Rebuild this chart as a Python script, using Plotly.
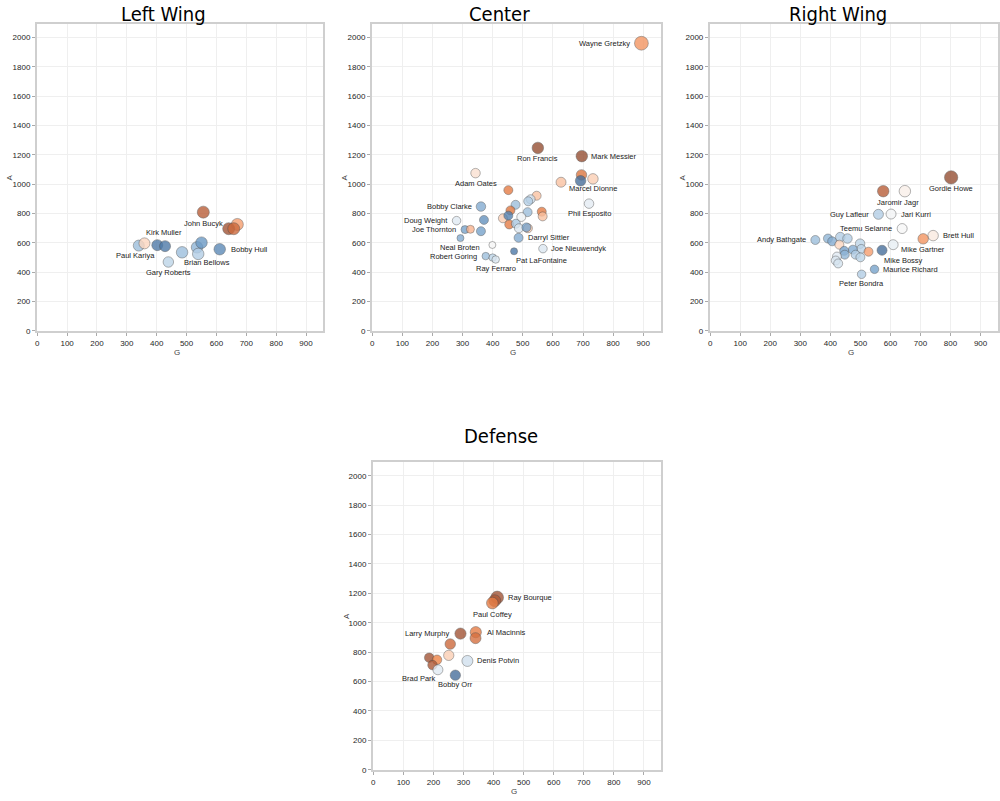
import plotly.graph_objects as go

# ---------------- DATA ----------------
# Left Wing
LW_names = ["", "Kirk Muller", "Paul Kariya", "", "Brian Bellows", "Gary Roberts", "", "", "",
            "Bobby Hull", "John Bucyk", "", "", ""]
LW_G = [340, 359, 402, 428, 485, 439, 535, 550, 539, 611, 556, 670, 641, 658]
LW_A = [582, 597, 585, 578, 536, 470, 570, 602, 525, 557, 810, 726, 697, 697]
LW_tone = [0.45, -0.12, 0.85, 0.85, 0.45, 0.3, 0.5, 0.65, 0.35, 0.75, -0.8, -0.35, -0.9, -0.7]
LW_weight = [1.1, 1.1, 1.1, 1.1, 1.15, 1.05, 1.15, 1.15, 1.15, 1.15, 1.2, 1.2, 1.2, 1.2]

# Center
C_names = ["Wayne Gretzky", "Ron Francis", "Mark Messier", "Adam Oates", "", "", "Marcel Dionne", "",
           "", "", "", "", "", "Bobby Clarke", "Phil Esposito", "", "", "", "", "", "", "",
           "Doug Weight", "", "", "", "", "", "", "Joe Thornton", "", "", "Neal Broten",
           "Darryl Sittler", "", "Pat LaFontaine", "Joe Nieuwendyk", "Robert Goring", "", "Ray Ferraro"]
C_G = [894, 550, 696, 343, 695, 692, 733, 627, 452, 546, 526, 518, 476, 361, 720, 459, 516, 563,
       566, 495, 434, 452, 280, 371, 455, 477, 487, 517, 512, 308, 326, 361, 293, 486, 399, 471,
       567, 377, 400, 410]
C_A = [1962, 1248, 1192, 1076, 1064, 1024, 1037, 1014, 960, 922, 898, 884, 860, 848, 868, 822,
       810, 813, 781, 777, 768, 786, 752, 757, 726, 731, 700, 700, 706, 691, 693, 680, 633, 635,
       586, 543, 561, 510, 500, 487]
C_tone = [-0.4, -0.95, -0.95, -0.08, -0.6, 0.9, -0.15, -0.2, -0.55, -0.2, 0.2, 0.35, 0.45, 0.55,
          0.1, -0.6, 0.45, -0.55, -0.2, 0.05, -0.15, 0.8, 0.12, 0.7, -0.55, 0.4, 0.15, -0.15, 0.6,
          0.6, -0.25, 0.6, 0.55, 0.55, 0.0, 0.85, 0.15, 0.45, 0.3, 0.15]
C_weight = [1.38, 1.15, 1.15, 0.95, 1.05, 1.05, 1.05, 1.0, 0.9, 0.9, 0.9, 0.9, 0.9, 0.95, 0.95,
            0.9, 0.9, 0.9, 0.9, 0.9, 0.9, 0.9, 0.85, 0.9, 0.9, 0.9, 0.9, 0.9, 0.9, 0.8, 0.8, 0.9,
            0.7, 0.9, 0.7, 0.7, 0.85, 0.75, 0.75, 0.75]

# Right Wing
RW_names = ["Gordie Howe", "", "Jaromir Jagr", "Guy Lafleur", "Jari Kurri", "Teemu Selanne",
            "Brett Hull", "Mike Gartner", "Andy Bathgate", "", "", "", "", "", "", "", "", "", "",
            "", "", "", "", "", "", "Mike Bossy", "", "Maurice Richard", "Peter Bondra"]
RW_G = [802, 576, 648, 560, 602, 639, 742, 709, 350, 392, 406, 433, 457, 430, 499, 503, 475, 527,
        446, 448, 484, 500, 422, 418, 426, 572, 609, 547, 504]
RW_A = [1047, 953, 953, 795, 797, 698, 650, 628, 620, 630, 611, 640, 630, 588, 595, 559, 554, 540,
        546, 520, 520, 502, 507, 480, 460, 550, 588, 420, 386]
RW_tone = [-0.95, -0.8, -0.03, 0.35, 0.02, 0.0, -0.05, -0.4, 0.45, 0.5, 0.55, 0.35, 0.35, -0.12,
           0.3, 0.3, 0.55, -0.35, 0.6, 0.5, 0.35, 0.3, 0.12, 0.15, 0.18, 0.9, 0.08, 0.6, 0.35]
RW_weight = [1.33, 1.15, 1.15, 1.0, 1.0, 1.0, 1.05, 1.05, 0.9, 0.9, 0.9, 0.95, 0.95, 0.9, 0.95,
             0.9, 0.9, 0.9, 0.9, 0.9, 0.9, 0.9, 0.9, 0.9, 0.9, 1.0, 1.0, 0.85, 0.85]

# Defense
D_names = ["Ray Bourque", "", "Paul Coffey", "Larry Murphy", "Al Macinnis", "", "", "",
           "Denis Potvin", "", "", "", "Brad Park", "Bobby Orr"]
D_G = [412, 404, 396, 290, 341, 340, 256, 251, 313, 186, 212, 197, 215, 273]
D_A = [1172, 1150, 1134, 926, 936, 895, 855, 778, 740, 762, 748, 712, 680, 643]
D_tone = [-0.9, -0.85, -0.55, -0.9, -0.55, -0.65, -0.7, -0.15, 0.2, -0.9, -0.5, -0.85, 0.12, 0.9]
D_weight = [1.27, 1.2, 1.17, 1.12, 1.12, 1.1, 1.05, 1.03, 1.1, 0.95, 0.95, 0.95, 1.0, 1.03]

X_TICKS = [0, 100, 200, 300, 400, 500, 600, 700, 800, 900]
Y_TICKS = [0, 200, 400, 600, 800, 1000, 1200, 1400, 1600, 1800, 2000]
TITLES = ["Left Wing", "Center", "Right Wing", "Defense"]

# ---------------- STYLE ----------------
# label placement: (xanchor, xshift px, yshift px)
LABEL_STYLE = {
    "Kirk Muller": ("left", 0, 11), "Paul Kariya": ("right", 0, -10),
    "Gary Roberts": ("center", 0, -10.5), "Brian Bellows": ("left", 0, -10),
    "Bobby Hull": ("left", 9, 0), "John Bucyk": ("center", 0, -11.5),
    "Wayne Gretzky": ("right", -9, 0), "Ron Francis": ("center", 0, -10.5),
    "Mark Messier": ("left", 7, 0), "Adam Oates": ("center", 0, -10),
    "Marcel Dionne": ("center", 0, -10), "Bobby Clarke": ("right", -7, 0),
    "Phil Esposito": ("center", 0, -10), "Doug Weight": ("right", -6.5, 0),
    "Joe Thornton": ("right", -6.5, 0), "Darryl Sittler": ("left", 7, 0),
    "Neal Broten": ("center", 0, -9), "Joe Nieuwendyk": ("left", 6.5, 0),
    "Robert Goring": ("right", -7, 0), "Pat LaFontaine": ("left", 0, -9.5),
    "Ray Ferraro": ("center", 0, -9),
    "Gordie Howe": ("center", 0, -11.5), "Jaromir Jagr": ("center", -7, -11),
    "Guy Lafleur": ("right", -7.5, 0), "Jari Kurri": ("left", 8, 0),
    "Teemu Selanne": ("right", -8, 0), "Brett Hull": ("left", 8, 0),
    "Mike Gartner": ("center", 0, -11), "Andy Bathgate": ("right", -7.5, 0),
    "Mike Bossy": ("left", 0, -10), "Maurice Richard": ("left", 6.5, 0),
    "Peter Bondra": ("center", 0, -9),
    "Ray Bourque": ("left", 9, 0), "Paul Coffey": ("center", 0, -11.5),
    "Larry Murphy": ("right", -9.5, 0), "Al Macinnis": ("left", 9, 0),
    "Denis Potvin": ("left", 8, 0), "Brad Park": ("right", 0, -8.5),
    "Bobby Orr": ("center", 0, -9.5),
}

COLORSCALE = [
    [0.0, "#8b4b33"], [0.12, "#c2623a"], [0.25, "#ee8447"], [0.35, "#f8a77c"],
    [0.45, "#fcdcc8"], [0.5, "#f7f7f7"], [0.58, "#d9e6f1"], [0.7, "#a9c8e2"],
    [0.82, "#6e9cc6"], [0.92, "#4f7cab"], [1.0, "#3f5b82"],
]
BASE_D = 10.0
TEXT_FONT = dict(family="Arial, Liberation Sans, sans-serif", size=7.5, color="#222222")
TICK_FONT = dict(family="Arial, Liberation Sans, sans-serif", size=8, color="#262626")
TITLE_FONT = dict(family="DejaVu Sans Condensed, Liberation Sans Narrow, Arial Narrow, sans-serif",
                  size=20, color="#000000")

W, H = 1000, 801
# plot-area pixel boxes: (left, right, top, bottom)
BOXES = [(35, 322, 24, 333), (370.7, 660, 24, 333), (709.3, 998, 24, 333), (371.7, 660.7, 464.3, 774)]
TITLE_POS = [(162, 14), (498, 14), (838, 14), (500, 438)]

panels = [
    (LW_names, LW_G, LW_A, LW_tone, LW_weight),
    (C_names, C_G, C_A, C_tone, C_weight),
    (RW_names, RW_G, RW_A, RW_tone, RW_weight),
    (D_names, D_G, D_A, D_tone, D_weight),
]

fig = go.Figure()
annotations = []
for i, (names, g, a, tone, weight) in enumerate(panels):
    sfx = "" if i == 0 else str(i + 1)
    fig.add_trace(go.Scatter(
        x=g, y=a, mode="markers", text=names,
        marker=dict(size=[w * BASE_D for w in weight], color=tone, colorscale=COLORSCALE,
                    cmin=-1, cmax=1, opacity=0.8,
                    line=dict(width=1, color="rgba(70,70,70,0.5)")),
        xaxis="x" + sfx, yaxis="y" + sfx, showlegend=False, hoverinfo="text",
    ))
    # point labels, anchored to the data points
    for n, gx, ay in zip(names, g, a):
        if not n:
            continue
        xa, xs, ys = LABEL_STYLE.get(n, ("center", 0, -10))
        annotations.append(dict(text=n, x=gx, y=ay, xref="x" + sfx, yref="y" + sfx,
                                showarrow=False, xanchor=xa, yanchor="middle",
                                xshift=xs, yshift=ys, font=TEXT_FONT))
    l, r, t, b = BOXES[i]
    axis_common = dict(showline=True, mirror=True, linecolor="#cfcfcf", linewidth=2,
                       showgrid=True, gridcolor="#efefef", gridwidth=1, zeroline=False,
                       ticks="outside", ticklen=3, tickcolor="#aaaaaa", tickfont=TICK_FONT,
                       fixedrange=True)
    fig.update_layout(**{
        "xaxis" + sfx: dict(domain=[l / W, r / W], range=[-1, 958], tickvals=X_TICKS,
                            anchor="y" + sfx, **axis_common),
        "yaxis" + sfx: dict(domain=[1 - b / H, 1 - t / H], range=[-3, 2094], tickvals=Y_TICKS,
                            anchor="x" + sfx, **axis_common),
    })
    cx = (l + r) / 2
    tx, ty = TITLE_POS[i]
    annotations.append(dict(text=TITLES[i], x=tx / W, y=1 - ty / H, xref="paper",
                            yref="paper", showarrow=False, font=TITLE_FONT,
                            xanchor="center", yanchor="middle"))
    annotations.append(dict(text="G", x=(cx - 3) / W, y=1 - (b + 21) / H, xref="paper", yref="paper",
                            showarrow=False, font=dict(family="Arial", size=8, color="#444444"),
                            xanchor="center", yanchor="middle"))
    annotations.append(dict(text="A", x=(l - 27) / W, y=1 - ((t + b) / 2) / H, xref="paper",
                            yref="paper", showarrow=False, textangle=-90,
                            font=dict(family="Arial", size=8, color="#444444"),
                            xanchor="center", yanchor="middle"))

fig.update_layout(width=W, height=H, margin=dict(l=0, r=0, t=0, b=0),
                  paper_bgcolor="white", plot_bgcolor="white", annotations=annotations)

fig.write_html("out.html")
